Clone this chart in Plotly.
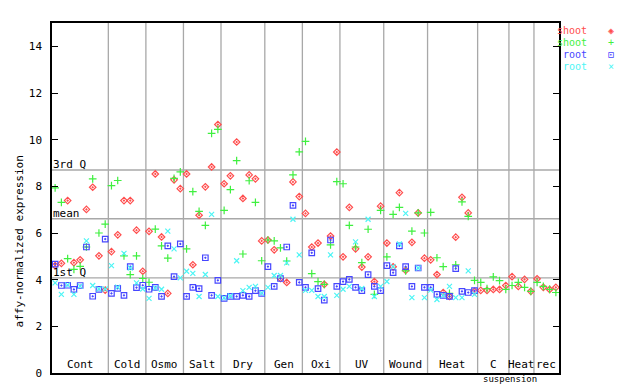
import plotly.graph_objects as go

# ---------------- data ----------------
group_labels = ["Cont", "Cold", "Osmo", "Salt", "Dry", "Gen", "Oxi", "UV",
                "Wound", "Heat", "C", "Heat", "rec"]
group_sizes = [9, 6, 6, 6, 7, 6, 6, 7, 7, 8, 5, 4, 4]

shoot_a = [4.60, 4.70, 7.39, 4.73, 4.85, 7.01, 7.96, 5.02, 3.55,
           5.20, 5.92, 7.39, 7.39, 6.12, 4.36,
           6.07, 8.53, 5.83, 3.41, 8.28, 7.90,
           8.53, 4.64, 6.76, 7.98, 8.83, 10.65,
           8.11, 8.45, 9.90, 7.48, 8.49, 8.32, 5.66,
           5.70, 5.28, 4.05, 3.88, 8.19, 7.56,
           6.84, 5.40, 5.57, 3.80, 5.87, 9.47,
           4.98, 7.10, 5.32, 4.54, 4.98, 3.92, 7.15,
           5.57, 4.55, 7.73, 4.40, 5.60, 6.86, 4.92,
           4.85, 4.22, 3.45, 3.28, 5.82, 7.53, 6.86, 3.50,
           3.54, 3.54, 3.58, 3.58, 3.75,
           4.13, 3.71, 4.01, 3.50,
           4.04, 3.67, 3.58, 3.67]

shoot_b = [7.93, 7.31, 4.90, 4.44, 4.57, 5.40, 8.32, 6.00, 6.38,
           8.03, 8.25, 5.02, 4.22, 5.02, 4.05,
           3.89, 6.17, 5.45, 4.92, 8.34, 8.62,
           5.32, 7.77, 6.93, 6.33, 10.27, 10.44,
           6.97, 7.86, 9.10, 5.10, 8.24, 7.31, 4.81,
           5.70, 5.66, 5.36, 4.80, 8.49, 9.48,
           9.93, 4.26, 3.92, 3.80, 5.49, 8.20,
           8.11, 6.33, 5.40, 4.73, 6.16, 3.37, 6.97,
           4.98, 6.80, 7.10, 4.38, 6.08, 6.86, 6.00,
           6.88, 4.94, 4.56, 3.41, 4.64, 7.33, 6.71, 3.97,
           3.88, 3.62, 4.12, 3.96, 3.58,
           3.75, 3.88, 3.67, 3.50,
           3.88, 3.71, 3.58, 3.45]

root_a = [4.67, 3.75, 3.76, 3.58, 3.75, 5.40, 3.29, 3.58, 5.74,
          3.41, 3.63, 3.33, 4.56, 3.66, 3.76,
          3.59, 3.67, 3.28, 5.45, 4.13, 5.53,
          3.28, 3.67, 3.62, 4.94, 3.33, 3.97,
          3.20, 3.28, 3.28, 3.33, 3.28, 3.53, 3.41,
          4.56, 3.71, 4.05, 5.40, 7.18, 3.88,
          3.67, 5.15, 3.62, 3.12, 5.70, 3.71,
          3.92, 4.01, 3.67, 3.53, 4.22, 3.71, 3.53,
          4.60, 4.30, 5.45, 4.56, 3.71, 4.50, 3.67,
          3.67, 3.37, 3.33, 3.28, 4.47, 3.50, 3.45, 3.53,
          None, None, None, None, None,
          None, None, None, None,
          None, None, None, None]

root_b = [3.86, 3.37, 3.78, 3.37, 3.72, 5.66, 3.75, 3.60, 3.60,
          4.60, 3.68, 5.13, 4.50, 3.86, 3.60,
          3.20, 3.65, 3.59, 6.08, 5.32, 4.08,
          4.36, 4.27, 3.28, 4.22, 6.80, 3.28,
          3.22, 3.30, 4.81, 3.53, 3.67, 3.71, 3.42,
          3.67, 4.18, 4.18, 4.72, 6.59, 5.06,
          3.54, 3.54, 3.28, 3.28, 5.06, 3.33,
          3.59, 3.71, 5.62, 3.62, 6.59, 3.28, 3.71,
          3.92, 4.56, 5.53, 6.84, 3.23, 4.50, 3.23,
          3.55, 3.15, 3.33, 3.71, 3.23, 3.23, 4.38, 3.37,
          None, None, None, None, None,
          None, None, None, None,
          None, None, None, None]

stat_values = {"3rd Q": 8.70, "mean": 6.61, "1st Q": 4.08}
y_ticks = [0, 2, 4, 6, 8, 10, 12, 14]

# ---------------- styling ----------------
FONT = "DejaVu Sans Mono"
RED, GREEN, BLUE, CYAN = "#ff4d4d", "#3ff03f", "#4646ff", "#4df5f5"
GRID = "#a8a8a8"

n = len(shoot_a)
xs = list(range(1, n + 1))

fig = go.Figure()
series = [
    ("shoot", shoot_a, RED, "diamond-open-dot", 5),
    ("shoot", shoot_b, GREEN, "cross-thin-open", 5.5),
    ("root", root_a, BLUE, "square-open-dot", 5.5),
    ("root", root_b, CYAN, "x-thin-open", 5),
]
for name, ys, col, sym, sz in series:
    fig.add_trace(go.Scatter(
        x=xs, y=ys, mode="markers", name=name, showlegend=False,
        marker=dict(symbol=sym, size=sz, color=col, line=dict(color=col, width=1.2)),
    ))

shapes = []
annotations = []

# group dividers and labels
edge = 0.5
for lab, size in zip(group_labels, group_sizes):
    start = edge
    edge += size
    if edge < n + 0.5:
        shapes.append(dict(type="line", xref="x", yref="paper", x0=edge, x1=edge,
                           y0=0, y1=1, line=dict(color=GRID, width=1.3), layer="below"))
    annotations.append(dict(x=(start + edge) / 2, y=0, xref="x", yref="y",
                            text=lab, showarrow=False, yanchor="bottom", yshift=1,
                            borderpad=0,
                            font=dict(family=FONT, size=11, color="black")))

annotations.append(dict(x=73.75, y=0, xref="x", yref="y", text="suspension",
                        showarrow=False, yanchor="top", yshift=0, borderpad=0,
                        font=dict(family=FONT, size=9, color="black")))

# statistic lines
for lab, val in stat_values.items():
    shapes.append(dict(type="line", xref="paper", yref="y", x0=0, x1=1, y0=val, y1=val,
                       line=dict(color=GRID, width=1.3), layer="below"))
    annotations.append(dict(x=0, y=val, xref="paper", yref="y", text=lab,
                            showarrow=False, xanchor="left", yanchor="bottom",
                            yshift=-3, xshift=-1,
                            font=dict(family=FONT, size=11, color="black")))

# y title
annotations.append(dict(x=0, y=0.376, xref="paper", yref="paper",
                        text="affy-normalized expression", textangle=-90,
                        showarrow=False, xanchor="center", yanchor="middle", xshift=-33,
                        font=dict(family=FONT, size=11, color="black")))

# legend (gnuplot style: coloured text, then symbol)
legend_rows = [("shoot", RED, "◈"), ("shoot", GREEN, "+"), ("root", BLUE, "⊡"), ("root", CYAN, "×")]
row_px = [23, 35, 47, 59]
for (lab, col, glyph), ypx in zip(legend_rows, row_px):
    yy = (368 - ypx) / 353
    annotations.append(dict(x=1.057, y=yy, xref="paper", yref="paper", text=lab,
                            showarrow=False, xanchor="right", yanchor="middle", borderpad=0,
                            font=dict(family=FONT, size=10, color=col)))
    annotations.append(dict(x=1.103, y=yy, xref="paper", yref="paper", text=glyph,
                            showarrow=False, xanchor="center", yanchor="middle", borderpad=0,
                            font=dict(family=FONT, size=10, color=col)))

fig.update_layout(
    width=640, height=384,
    margin=dict(l=44, r=89, t=15, b=16),
    paper_bgcolor="white", plot_bgcolor="white",
    shapes=shapes, annotations=annotations,
    font=dict(family=FONT, size=11, color="black"),
    xaxis=dict(range=[0.5, n + 0.5], showgrid=False, zeroline=False,
               showticklabels=False, ticks="", showline=True, linecolor="black",
               linewidth=1.5, mirror=True),
    yaxis=dict(range=[0, 15], tickvals=y_ticks, showgrid=False, zeroline=False,
               ticks="inside", ticklen=6, tickcolor="black", tickwidth=1.3,
               showline=True, linecolor="black", linewidth=1.5, mirror="ticks",
               ticklabelstandoff=6,
               tickfont=dict(family=FONT, size=11, color="black")),
)

fig.write_html("out.html")
